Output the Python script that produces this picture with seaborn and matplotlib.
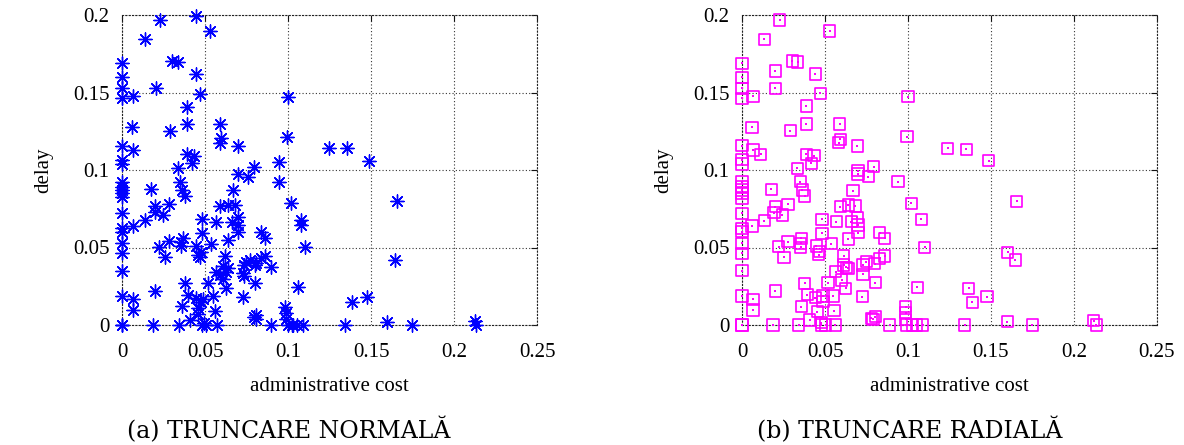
import numpy as np
import pandas as pd
import matplotlib
matplotlib.use("Agg")
import matplotlib.pyplot as plt
import seaborn as sns
from matplotlib.ticker import FormatStrFormatter

# ---- data: (a) TRUNCARE NORMALA ----
normal_cost = [
    0.0227, 0.0448, 0.0532, 0.0137, 0.0, 0.0, 0.0, 0.0, 0.0066, 0.0207,
    0.0303, 0.0337, 0.0448, 0.0472, 0.1000, 0.0392, 0.0060, 0.0291, 0.0392, 0.0588,
    0.0598, 0.0592, 0.0699, 0.0996, 0.0, 0.0066, 0.0392, 0.0434, 0.0424, 0.0,
    0.0, 0.0337, 0.0793, 0.0944,
    0.0699, 0.0759, 0.0944, 0.0, 0.0, 0.0, 0.0, 0.0, 0.0177, 0.0351,
    0.0363, 0.0378, 0.0669, 0.1020, 0.0, 0.0201, 0.0197, 0.0247, 0.0281, 0.0137,
    0.0066, 0.0, 0.0, 0.0, 0.0, 0.0, 0.0482, 0.0482, 0.0568, 0.0592,
    0.0639, 0.0679, 0.0665, 0.0699, 0.0699, 0.0699, 0.0639, 0.0835, 0.0859, 0.1080,
    0.1076, 0.1104, 0.0223, 0.0257, 0.0281, 0.0353, 0.0357, 0.0367, 0.0448, 0.0458,
    0.0468, 0.0478, 0.0538, 0.0618, 0.0608, 0.0639, 0.0629, 0.0568, 0.0588, 0.0608,
    0.0629, 0.0733, 0.0729, 0.0733, 0.0749, 0.0769, 0.0799, 0.0805, 0.0835, 0.0859,
    0.0900, 0.0799, 0.0729, 0.0793, 0.0809, 0.0805, 0.0, 0.0066, 0.0066, 0.0201,
    0.0378, 0.0398, 0.0363, 0.0448, 0.0458, 0.0478, 0.0488, 0.0458, 0.0518, 0.0548,
    0.0558, 0.0408, 0.0980, 0.0990, 0.0986, 0.1060, 0.0492,
    0.0, 0.0, 0.0189, 0.0343, 0.0480, 0.0506, 0.0570, 0.0896, 0.1002, 0.1022,
    0.1032, 0.1052, 0.1092,
    0.1245, 0.1355, 0.1488, 0.1657, 0.1647, 0.1388, 0.1478, 0.1341, 0.1598, 0.1749,
    0.2129, 0.2135,
]
normal_delay = [
    0.1968, 0.1996, 0.1897, 0.1843, 0.1688, 0.1598, 0.1527, 0.1462, 0.1477, 0.1527,
    0.1703, 0.1697, 0.1619, 0.1490, 0.1473, 0.1409, 0.1275, 0.1254, 0.1297, 0.1295,
    0.1204, 0.1176, 0.1155, 0.1215, 0.1157, 0.1129, 0.1101, 0.1092, 0.1043, 0.1065,
    0.1039, 0.1011, 0.1022, 0.1054,
    0.0974, 0.0957, 0.0925, 0.0925, 0.0892, 0.0871, 0.0849, 0.0828, 0.0875, 0.0925,
    0.0871, 0.0832, 0.0871, 0.0789, 0.0720, 0.0768, 0.0731, 0.0710, 0.0778, 0.0677,
    0.0639, 0.0624, 0.0602, 0.0527, 0.0462, 0.0351, 0.0682, 0.0591, 0.0667, 0.0768,
    0.0774, 0.0774, 0.0667, 0.0695, 0.0645, 0.0602, 0.0548, 0.0602, 0.0559, 0.0677,
    0.0645, 0.0501, 0.0505, 0.0437, 0.0544, 0.0538, 0.0510, 0.0559, 0.0510, 0.0452,
    0.0441, 0.0473, 0.0523, 0.0445, 0.0381, 0.0366, 0.0344, 0.0344, 0.0323, 0.0295,
    0.0237, 0.0387, 0.0333, 0.0316, 0.0409, 0.0419, 0.0387, 0.0402, 0.0430, 0.0445,
    0.0376, 0.0269, 0.0183, 0.0054, 0.0065, 0.0037, 0.0187, 0.0166, 0.0097, 0.0222,
    0.0269, 0.0194, 0.0123, 0.0172, 0.0108, 0.0151, 0.0166, 0.0071, 0.0273, 0.0187,
    0.0092, 0.0032, 0.0118, 0.0080, 0.0037, 0.0247, 0.0015,
    0.0, 0.0, 0.0, 0.0, 0.0, 0.0, 0.0, 0.0, 0.0, 0.0,
    0.0, 0.0, 0.0,
    0.1140, 0.1140, 0.1060, 0.0798, 0.0419, 0.0146, 0.0183, 0.0, 0.0022, 0.0,
    0.0028, 0.0,
]

# ---- data: (b) TRUNCARE RADIALA ----
radial_cost = [
    0.0227, 0.0528, 0.0133, 0.0, 0.0, 0.0, 0.0, 0.0066, 0.0201, 0.0201,
    0.0303, 0.0337, 0.0442, 0.0472, 0.1000, 0.0388, 0.0060, 0.0291, 0.0388, 0.0588,
    0.0592, 0.0584, 0.0695, 0.0994, 0.0, 0.0066, 0.0112, 0.0388, 0.0434, 0.0418,
    0.0333, 0.0699, 0.0793, 0.0, 0.0,
    0.0699, 0.0760, 0.0940, 0.0, 0.0, 0.0, 0.0, 0.0, 0.0177, 0.0351,
    0.0363, 0.0378, 0.0669, 0.1020, 0.0, 0.0201, 0.0193, 0.0243, 0.0277, 0.0133,
    0.0060, 0.0, 0.0, 0.0, 0.0, 0.0, 0.0482, 0.0482, 0.0568, 0.0592,
    0.0639, 0.0683, 0.0659, 0.0695, 0.0699, 0.0699, 0.0639, 0.0829, 0.0859, 0.1080,
    0.1100, 0.0221, 0.0253, 0.0277, 0.0357, 0.0353, 0.0353, 0.0448, 0.0462, 0.0468,
    0.0538, 0.0614, 0.0612, 0.0639, 0.0629, 0.0564, 0.0602, 0.0729, 0.0729, 0.0749,
    0.0799, 0.0829, 0.0859, 0.0518, 0.0624, 0.0803, 0.0725, 0.0779, 0.0803, 0.0789,
    0.0, 0.0066, 0.0066, 0.0201, 0.0378, 0.0392, 0.0357, 0.0442, 0.0454, 0.0488,
    0.0488, 0.0548, 0.0554, 0.0408, 0.0986, 0.0986, 0.0986, 0.1056, 0.0478,
    0.0, 0.0, 0.0187, 0.0341, 0.0478, 0.0504, 0.0562, 0.0890, 0.0990, 0.1026,
    0.1050, 0.1090,
    0.1239, 0.1350, 0.1486, 0.1655, 0.1602, 0.1647, 0.1365, 0.1386, 0.1476, 0.1341,
    0.1598, 0.1749, 0.2120, 0.2135,
]
radial_delay = [
    0.1968, 0.1897, 0.1843, 0.1688, 0.1598, 0.1527, 0.1462, 0.1477, 0.1639, 0.1527,
    0.1703, 0.1697, 0.1619, 0.1495, 0.1473, 0.1413, 0.1275, 0.1254, 0.1297, 0.1297,
    0.1198, 0.1176, 0.1155, 0.1215, 0.1157, 0.1129, 0.1101, 0.1101, 0.1092, 0.1043,
    0.1011, 0.0996, 0.1022, 0.1065, 0.1039,
    0.0974, 0.0957, 0.0925, 0.0925, 0.0892, 0.0871, 0.0850, 0.0817, 0.0875, 0.0925,
    0.0871, 0.0832, 0.0867, 0.0785, 0.0720, 0.0763, 0.0725, 0.0710, 0.0778, 0.0673,
    0.0639, 0.0624, 0.0602, 0.0527, 0.0462, 0.0350, 0.0682, 0.0591, 0.0667, 0.0763,
    0.0774, 0.0768, 0.0667, 0.0695, 0.0645, 0.0596, 0.0555, 0.0596, 0.0559, 0.0682,
    0.0501, 0.0505, 0.0437, 0.0538, 0.0559, 0.0527, 0.0501, 0.0510, 0.0452, 0.0473,
    0.0523, 0.0445, 0.0387, 0.0366, 0.0372, 0.0344, 0.0290, 0.0387, 0.0327, 0.0409,
    0.0394, 0.0430, 0.0445, 0.0273, 0.0237, 0.0273, 0.0183, 0.0043, 0.0054, 0.0037,
    0.0187, 0.0166, 0.0097, 0.0219, 0.0269, 0.0194, 0.0118, 0.0176, 0.0086, 0.0187,
    0.0151, 0.0187, 0.0092, 0.0032, 0.0118, 0.0080, 0.0037, 0.0243, 0.0015,
    0.0, 0.0, 0.0, 0.0, 0.0, 0.0, 0.0, 0.0, 0.0, 0.0,
    0.0, 0.0,
    0.1140, 0.1135, 0.1060, 0.0798, 0.0469, 0.0419, 0.0237, 0.0146, 0.0183, 0.0,
    0.0022, 0.0, 0.0028, 0.0,
]

x_ticks = [0, 0.05, 0.1, 0.15, 0.2, 0.25]
y_ticks = [0, 0.05, 0.1, 0.15, 0.2]
x_label = "administrative cost"
y_label = "delay"
captions = ["(a) TRUNCARE NORMALĂ", "(b) TRUNCARE RADIALĂ"]

sns.set_theme(style="white")
plt.rcParams["font.family"] = ["Liberation Serif", "DejaVu Serif"]

W, H = 1184, 445
fig = plt.figure(figsize=(W / 100, H / 100), dpi=100)

ax_l = fig.add_axes([122 / W, (H - 325) / H, 415 / W, 310 / H])
ax_r = fig.add_axes([742 / W, (H - 325) / H, 415 / W, 310 / H])

df_n = pd.DataFrame({"cost": normal_cost, "delay": normal_delay})
df_r = pd.DataFrame({"cost": radial_cost, "delay": radial_delay})

sns.scatterplot(data=df_n, x="cost", y="delay", ax=ax_l, marker=(8, 2, 0),
                s=90, color="#0000ff", linewidth=1.0, clip_on=False, zorder=3)
sns.scatterplot(data=df_r, x="cost", y="delay", ax=ax_r, marker="s",
                s=64, facecolor="none", edgecolor="#ff00ff", linewidth=1.2,
                clip_on=False, zorder=3)
sns.scatterplot(data=df_r, x="cost", y="delay", ax=ax_r, marker="s",
                s=2, color="#ff00ff", linewidth=0, clip_on=False, zorder=3)

for ax, cap, cx in [(ax_l, captions[0], 289), (ax_r, captions[1], 910)]:
    ax.set_xlim(0, 0.25)
    ax.set_ylim(0, 0.2)
    ax.set_xticks(x_ticks)
    ax.set_yticks(y_ticks)
    ax.xaxis.set_major_formatter(FormatStrFormatter("%g"))
    ax.yaxis.set_major_formatter(FormatStrFormatter("%g"))
    ax.grid(True, color="#333333", linestyle=(0, (1, 2)), linewidth=0.8)
    ax.set_axisbelow(True)
    for sp in ax.spines.values():
        sp.set_visible(True)
        sp.set_color("#222222")
        sp.set_linestyle((0, (1, 2)))
        sp.set_linewidth(0.8)
    ax.tick_params(direction="in", length=4, width=0.8, color="#111111",
                   top=True, right=True, labelsize=15, labelcolor="black")
    ax.tick_params(axis="y", pad=9)
    ax.tick_params(axis="x", pad=13)
    ax.set_xlabel(x_label, fontsize=15, labelpad=11, color="black")
    ax.set_ylabel(y_label, fontsize=15, labelpad=14, color="black")
    fig.text(cx / W, 1 - 430 / H, cap, ha="center", va="center",
             fontsize=17, color="black", family=["DejaVu Serif"])

fig.savefig("out.png", dpi=100, facecolor="white")
